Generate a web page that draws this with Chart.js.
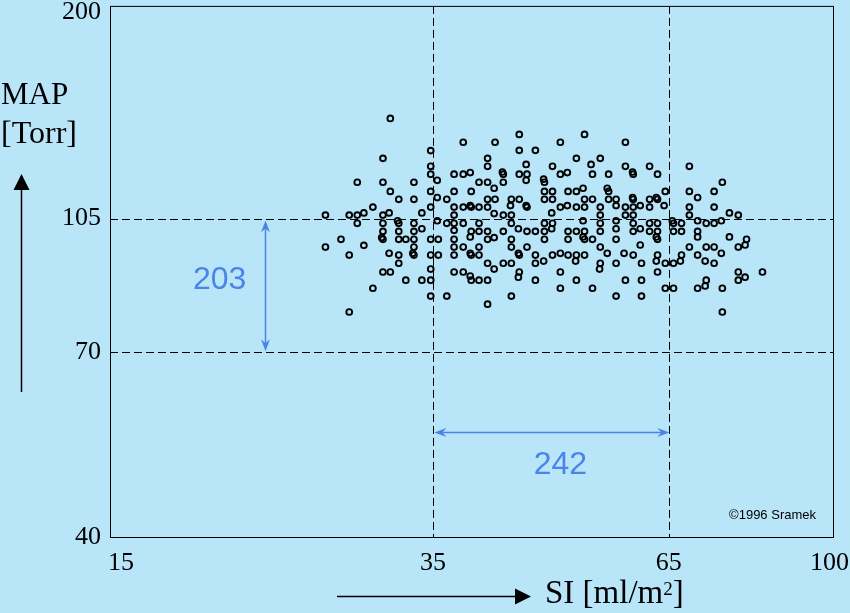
<!DOCTYPE html>
<html>
<head>
<meta charset="utf-8">
<title>MAP vs SI</title>
<script src="https://cdn.jsdelivr.net/npm/chart.js@4.4.1/dist/chart.umd.min.js"></script>
<style>
  html, body { margin: 0; padding: 0; background: #b9e5f8; }
  canvas { display: block; }
</style>
</head>
<body>
<canvas id="chart" width="850" height="613"></canvas>
<script>
// one entry per patient: SI [ml/m2] and MAP [Torr]
const siValues = [
  31.3, 37.9, 34.8, 30.7, 34.8, 34.8, 37.0, 37.9, 35.4, 28.7, 30.7, 33.3, 31.3, 34.8, 37.0, 32.0, 33.3, 35.4, 36.3, 29.9, 34.8, 37.0, 37.9,
  26.4, 28.1, 28.7, 29.2, 30.7, 31.2, 34.0, 37.0, 28.7, 30.7, 31.9, 32.0, 33.3, 35.4, 36.3, 37.0, 37.9, 30.7, 32.0, 33.3, 34.0, 37.0,
  27.5, 30.6, 30.7, 32.0, 32.6, 33.3, 34.8, 35.5, 37.0, 26.4, 29.2, 33.3, 37.0, 37.9,
  28.1, 31.2, 32.0, 33.2, 33.3, 34.8, 35.5, 37.0, 32.0, 34.8, 30.7, 31.3, 37.0, 37.9, 29.9, 32.6, 34.0, 34.8, 34.8, 36.3, 28.1,
  41.2, 43.9, 48.9, 52.1, 40.4, 43.9, 45.8, 51.0, 54.3, 40.4, 44.7, 47.9, 53.0, 38.6, 42.0, 42.1, 43.9, 44.8, 48.9, 49.8, 53.2, 55.5,
  39.5, 40.4, 42.1, 44.7, 46.8, 46.9, 38.7, 41.1, 46.9, 47.9, 49.9, 51.0, 51.9, 55.3, 55.5,
  40.4, 41.2, 43.0, 43.9, 46.9, 47.9, 52.1, 53.2, 55.5, 56.6, 38.6, 38.7, 39.5, 40.4, 42.9, 44.7, 44.8, 48.9, 49.8, 51.0, 52.1, 54.3, 56.6,
  41.1, 42.1, 43.0, 47.8, 54.3, 39.5, 43.0, 46.9, 47.9, 51.9, 54.3, 56.6,
  38.7, 39.5, 40.4, 42.1, 43.8, 44.8, 45.8, 46.9, 47.8, 49.9, 51.0, 52.1, 54.3, 56.6,
  38.6, 40.4, 41.1, 43.0, 46.9, 49.9, 51.9, 52.1, 53.2, 56.6,
  39.5, 43.0, 44.8, 54.3,
  38.6, 38.7, 39.5, 43.8, 43.9, 45.8, 47.9, 48.9, 49.9, 51.0, 52.1, 55.3,
  40.4, 42.1, 43.0, 45.8, 46.8, 50.9, 54.3, 56.6,
  41.1, 54.2, 43.9, 48.9,
  38.6, 38.7, 39.5, 40.4, 43.8, 45.8, 51.0, 48.9, 53.2, 43.0, 56.6, 40.4,
  58.0, 58.0, 61.8, 68.6, 59.1, 59.2, 63.1, 74.8, 64.4, 68.6, 73.2, 70.1, 59.1, 59.2, 61.8, 62.9, 63.1, 58.0, 59.2, 60.3, 61.8, 64.2, 68.6, 73.2,
  58.0, 59.2, 68.6, 76.2, 78.0, 59.2, 61.8, 63.1, 65.6, 65.8, 67.2, 70.1, 71.7, 73.2, 74.6,
  59.2, 60.3, 61.8, 63.1, 65.8, 67.2, 70.1, 62.9, 63.1, 70.1, 76.2, 79.7,
  60.3, 68.6, 71.7, 73.2, 78.0, 79.4, 57.8, 59.2, 63.1, 67.2, 70.1, 74.6,
  60.5, 62.9, 64.4, 65.8, 67.0, 71.5, 73.2, 63.1, 78.0, 83.1,
  58.0, 60.5, 71.7, 78.0, 79.4, 64.4, 65.8, 70.1, 71.5, 74.8, 60.5, 74.8
];
const mapValues = [
  142.2, 132.3, 129.0, 126.0, 123.0, 120.1, 120.1, 120.1, 117.9, 117.2, 117.2, 117.2, 114.0, 114.0, 114.0, 111.3, 111.3, 111.9, 111.3, 108.7, 108.7, 108.7, 108.7,
  106.1, 106.1, 106.1, 106.8, 106.1, 106.8, 106.8, 106.1, 103.5, 103.5, 104.3, 103.5, 103.5, 104.3, 103.5, 103.5, 103.5, 101.0, 101.0, 101.0, 101.8, 101.3,
  98.6, 99.1, 98.6, 98.6, 98.6, 98.6, 98.6, 98.6, 98.6, 96.3, 96.8, 96.3, 96.3, 96.3,
  94.0, 94.5, 94.0, 94.5, 94.0, 94.0, 94.0, 94.0, 91.7, 90.1, 89.3, 89.3, 89.3, 89.3, 85.0, 87.1, 87.1, 87.1, 83.0, 83.0, 79.1,
  132.3, 135.5, 132.3, 135.5, 126.0, 129.1, 129.1, 126.0, 126.0, 123.0, 123.7, 123.0, 123.7, 120.7, 120.9, 120.1, 120.1, 120.1, 120.1, 120.7, 120.1, 120.1,
  117.2, 117.2, 117.2, 117.9, 118.3, 117.2, 114.0, 115.1, 114.0, 114.0, 114.0, 114.0, 115.1, 115.1, 114.0,
  111.3, 111.3, 111.3, 111.3, 111.3, 111.3, 111.3, 111.3, 111.3, 111.3, 109.2, 108.7, 108.7, 108.7, 109.2, 109.2, 108.7, 108.7, 109.2, 108.7, 108.7, 108.7, 109.2,
  106.6, 106.1, 106.1, 106.8, 106.1, 103.5, 103.5, 103.5, 103.5, 104.3, 103.5, 104.3,
  101.0, 101.0, 101.0, 101.0, 101.8, 101.0, 101.0, 101.0, 101.8, 101.0, 101.0, 101.0, 101.0, 101.8,
  99.3, 98.6, 99.1, 98.6, 98.6, 98.6, 99.3, 98.6, 98.6, 98.6,
  96.3, 96.3, 96.3, 96.3,
  94.5, 94.0, 94.0, 94.5, 94.0, 94.0, 94.0, 94.5, 94.0, 94.0, 94.0, 94.5,
  91.7, 91.7, 91.7, 91.7, 92.3, 92.3, 91.7, 91.7,
  90.1, 90.1, 89.3, 89.3,
  88.2, 87.1, 87.1, 87.1, 87.9, 87.1, 87.1, 85.0, 85.0, 83.0, 83.0, 81.0,
  132.3, 123.0, 123.0, 123.0, 120.9, 120.1, 120.1, 117.2, 114.0, 114.0, 114.0, 111.9, 111.9, 111.3, 111.3, 111.9, 111.3, 108.7, 108.7, 109.2, 108.7, 109.2, 108.7, 108.7,
  106.1, 106.1, 106.1, 106.8, 106.1, 103.5, 103.5, 103.5, 104.3, 103.5, 103.5, 104.3, 103.5, 103.5, 104.3,
  101.0, 101.8, 101.0, 101.0, 101.0, 101.0, 101.0, 99.3, 98.6, 99.3, 99.3, 98.6,
  96.9, 96.3, 96.3, 96.3, 96.3, 96.9, 94.5, 94.0, 94.0, 94.0, 94.0, 94.5,
  91.7, 92.3, 91.7, 91.7, 92.3, 92.3, 91.7, 89.3, 89.3, 89.3,
  87.1, 87.1, 87.1, 87.1, 87.9, 85.0, 85.0, 85.0, 85.6, 85.0, 83.0, 79.1
];

const siTicks = [15, 35, 65, 100];
const mapTicks = [40, 70, 105, 200];
const siLimits = [35, 65];    // dashed verticals
const mapLimits = [70, 105];  // dashed horizontals
const mapBandCount = "203";
const siBandCount = "242";

const BLUE = "#4a84e8";
const SERIF = "'Liberation Serif', 'Times New Roman', serif";
const SANS = "'Liberation Sans', Arial, sans-serif";

function line(ctx, x1, y1, x2, y2) {
  ctx.beginPath();
  ctx.moveTo(x1, y1);
  ctx.lineTo(x2, y2);
  ctx.stroke();
}

// tip at (tx,ty), pointing along unit vector (dx,dy)
function arrowHead(ctx, tx, ty, dx, dy, len, half, notch) {
  const bx = tx - dx * len, by = ty - dy * len;
  ctx.beginPath();
  ctx.moveTo(tx, ty);
  ctx.lineTo(bx - dy * half, by + dx * half);
  ctx.lineTo(tx - dx * notch, ty - dy * notch);
  ctx.lineTo(bx + dy * half, by - dx * half);
  ctx.closePath();
  ctx.fill();
}

const overlay = {
  id: "overlay",
  beforeDatasetsDraw(chart) {
    const { ctx, chartArea: a, scales: { x, y } } = chart;
    ctx.save();
    ctx.strokeStyle = "#000";
    ctx.lineWidth = 1;
    ctx.setLineDash([8, 4]);
    mapLimits.forEach((v) => {
      const py = Math.round(y.getPixelForValue(v)) + 0.5;
      line(ctx, a.left, py, a.right, py);
    });
    siLimits.forEach((v) => {
      const px = Math.round(x.getPixelForValue(v)) + 0.5;
      line(ctx, px, a.top, px, a.bottom);
    });
    ctx.setLineDash([]);
    ctx.strokeRect(a.left + 0.5, a.top + 0.5, a.right - a.left, a.bottom - a.top);
    ctx.restore();
  },
  afterDatasetsDraw(chart) {
    const { ctx, chartArea: a, scales: { x, y }, width } = chart;
    ctx.save();

    // tick labels
    ctx.fillStyle = "#000";
    ctx.font = "26px " + SERIF;
    ctx.textBaseline = "middle";
    ctx.textAlign = "center";
    siTicks.forEach((v) => {
      const label = String(v);
      const w = ctx.measureText(label).width;
      const cx = Math.min(Math.max(x.getPixelForValue(v), a.left + w / 2 - 2), width - w / 2 - 1);
      ctx.fillText(label, cx, a.bottom + 26);
    });
    ctx.textAlign = "right";
    mapTicks.forEach((v) => {
      const cy = Math.max(y.getPixelForValue(v), a.top + 6);
      ctx.fillText(String(v), a.left - 9, cy);
    });

    // axis titles
    ctx.textAlign = "left";
    ctx.textBaseline = "alphabetic";
    ctx.font = "31px " + SERIF;
    ctx.fillText("MAP", 1, 104);
    ctx.font = "32px " + SERIF;
    ctx.fillText("[Torr]", 1, 143);

    let tx = 545;
    const main = "SI [ml/m";
    ctx.font = "33px " + SERIF;
    ctx.fillText(main, tx, 603);
    tx += ctx.measureText(main).width;
    ctx.font = "19px " + SERIF;
    ctx.fillText("2", tx, 595);
    tx += ctx.measureText("2").width;
    ctx.font = "33px " + SERIF;
    ctx.fillText("]", tx, 603);

    // black direction arrows
    ctx.strokeStyle = "#000";
    ctx.lineWidth = 1.5;
    line(ctx, 21.5, 392, 21.5, 188);
    arrowHead(ctx, 21.5, 174, 0, -1, 16, 8, 16);
    line(ctx, 337, 596.5, 517, 596.5);
    arrowHead(ctx, 531, 596.5, 1, 0, 16, 8, 16);

    // copyright
    ctx.font = "13px " + SANS;
    ctx.textAlign = "right";
    ctx.fillText("\u00a91996 Sramek", a.right - 17, a.bottom - 18);

    // blue band annotations
    ctx.strokeStyle = BLUE;
    ctx.fillStyle = BLUE;
    ctx.lineWidth = 1.5;
    const ax = Math.round(x.getPixelForValue(22.5)) + 0.5;
    const yTop = y.getPixelForValue(mapLimits[1]) + 2;
    const yBot = y.getPixelForValue(mapLimits[0]) - 1;
    line(ctx, ax, yTop + 4, ax, yBot - 4);
    arrowHead(ctx, ax, yTop, 0, -1, 12, 4.5, 8);
    arrowHead(ctx, ax, yBot, 0, 1, 12, 4.5, 8);

    const ay = Math.round(y.getPixelForValue(55)) + 0.5;
    const xL = x.getPixelForValue(siLimits[0]) + 1.5;
    const xR = x.getPixelForValue(siLimits[1]) + 0.5;
    line(ctx, xL + 4, ay, xR - 4, ay);
    arrowHead(ctx, xL, ay, -1, 0, 12, 4.5, 8);
    arrowHead(ctx, xR, ay, 1, 0, 12, 4.5, 8);

    ctx.font = "32px " + SANS;
    ctx.textAlign = "center";
    ctx.textBaseline = "middle";
    ctx.fillText(mapBandCount, x.getPixelForValue(20), y.getPixelForValue(87));
    ctx.fillText(siBandCount, x.getPixelForValue(48.9), y.getPixelForValue(49.7));

    ctx.restore();
  }
};

new Chart(document.getElementById("chart"), {
  type: "scatter",
  data: {
    datasets: [{
      data: siValues.map((v, i) => ({ x: v, y: mapValues[i] })),
      pointStyle: "circle",
      pointRadius: 2.9,
      pointBorderWidth: 1.9,
      pointBorderColor: "#000",
      pointBackgroundColor: "rgba(0,0,0,0)"
    }]
  },
  options: {
    responsive: false,
    animation: false,
    events: [],
    layout: { padding: { left: 110, right: 17, top: 5, bottom: 76 } },
    plugins: { legend: { display: false }, tooltip: { enabled: false } },
    scales: {
      x: { type: "logarithmic", min: 15, max: 100, display: false },
      y: { type: "logarithmic", min: 40, max: 200, display: false }
    }
  },
  plugins: [overlay]
});
</script>
</body>
</html>
